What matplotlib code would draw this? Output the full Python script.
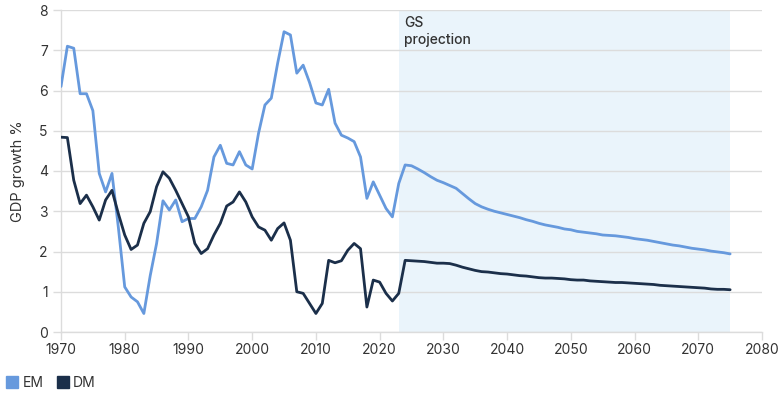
import numpy as np
import matplotlib.pyplot as plt
from matplotlib.lines import Line2D

plt.rcParams['font.family'] = ['Inter', 'DejaVu Sans']

years = np.arange(1970, 2076)

# EM real GDP growth, % (history to 2023, GS projection after)
em = [6.1, 7.1, 7.05, 5.92, 5.92, 5.5, 3.94, 3.48, 3.94, 2.6,
      1.12, 0.87, 0.75, 0.46, 1.4, 2.2, 3.26, 3.03, 3.28, 2.74,
      2.82, 2.82, 3.11, 3.52, 4.35, 4.64, 4.19, 4.15, 4.48, 4.15,
      4.05, 4.94, 5.64, 5.81, 6.68, 7.46, 7.38, 6.43, 6.63, 6.2,
      5.69, 5.64, 6.03, 5.19, 4.89, 4.82, 4.73, 4.35, 3.32, 3.73,
      3.40, 3.07, 2.86, 3.69, 4.15, 4.13, 4.05, 3.96, 3.86, 3.77,
      3.71, 3.64, 3.57, 3.44, 3.31, 3.19, 3.11, 3.05, 3.00, 2.96,
      2.92, 2.88, 2.84, 2.79, 2.75, 2.70, 2.66, 2.63, 2.60, 2.56,
      2.54, 2.50, 2.48, 2.46, 2.44, 2.41, 2.40, 2.39, 2.37, 2.35,
      2.32, 2.30, 2.28, 2.25, 2.22, 2.19, 2.16, 2.14, 2.11, 2.08,
      2.06, 2.04, 2.01, 1.99, 1.97, 1.94]

# DM real GDP growth, %
dm = [4.84, 4.83, 3.77, 3.19, 3.40, 3.11, 2.78, 3.28, 3.52, 2.94,
      2.41, 2.05, 2.16, 2.70, 2.99, 3.61, 3.98, 3.82, 3.52, 3.19,
      2.86, 2.20, 1.95, 2.07, 2.41, 2.70, 3.13, 3.23, 3.48, 3.23,
      2.86, 2.61, 2.53, 2.28, 2.57, 2.71, 2.28, 1.00, 0.96, 0.71,
      0.46, 0.71, 1.78, 1.72, 1.77, 2.03, 2.20, 2.07, 0.62, 1.29,
      1.24, 0.96, 0.77, 0.96, 1.78, 1.77, 1.76, 1.75, 1.73, 1.71,
      1.71, 1.70, 1.66, 1.61, 1.57, 1.53, 1.50, 1.49, 1.47, 1.45,
      1.44, 1.42, 1.40, 1.39, 1.37, 1.35, 1.34, 1.34, 1.33, 1.32,
      1.30, 1.29, 1.29, 1.27, 1.26, 1.25, 1.24, 1.23, 1.23, 1.22,
      1.21, 1.20, 1.19, 1.18, 1.16, 1.15, 1.14, 1.13, 1.12, 1.11,
      1.10, 1.09, 1.07, 1.06, 1.06, 1.05]

proj_start, proj_end = 2023, 2075
em_color = '#6699dd'
dm_color = '#1b2f4a'
grid_color = '#dcdcdc'

fig = plt.figure(figsize=(7.83, 3.93), dpi=100)
ax = fig.add_axes([61/783, 1-332/393, (762-61)/783, (332-10)/393])

# shaded projection period
ax.axvspan(proj_start, proj_end, color='#eaf4fb', lw=0, zorder=0)
ax.text(proj_start + 0.9, 7.85, 'GS\nprojection', fontsize=10, fontweight='medium',
        color='#333333', va='top', ha='left', linespacing=1.3)

ax.plot(years, em, color=em_color, lw=2.0, solid_joinstyle='round', solid_capstyle='round', zorder=3)
ax.plot(years, dm, color=dm_color, lw=2.0, solid_joinstyle='round', solid_capstyle='round', zorder=3)

ax.set_xlim(1970, 2080)
ax.set_ylim(0, 8)
ax.set_xticks(np.arange(1970, 2081, 10))
ax.set_yticks(np.arange(0, 9, 1))
ax.grid(axis='y', color=grid_color, lw=1)
ax.set_axisbelow(True)

for s in ['top', 'right']:
    ax.spines[s].set_visible(False)
for s in ['left', 'bottom']:
    ax.spines[s].set_color(grid_color)
    ax.spines[s].set_linewidth(1)
ax.tick_params(axis='both', colors=grid_color, length=6, width=1, labelsize=10, labelcolor='#333333')
ax.tick_params(axis='x', pad=2)

ax.set_ylabel('GDP growth %', fontsize=10.5, color='#333333', labelpad=10)

handles = [Line2D([], [], marker='s', ls='none', markersize=9, color=em_color),
           Line2D([], [], marker='s', ls='none', markersize=9, color=dm_color)]
fig.legend(handles, ['EM', 'DM'], loc='lower left', bbox_to_anchor=(-0.008, -0.025),
           ncol=2, frameon=False, fontsize=10, handletextpad=0.3, columnspacing=0.9,
           handlelength=0.9, labelcolor='#333333')

fig.savefig('out.png', dpi=100)
